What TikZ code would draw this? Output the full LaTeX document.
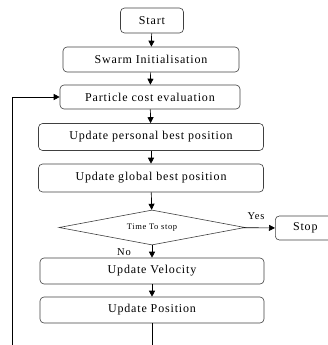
\documentclass[tikz,border=0pt]{standalone}
\usepackage{fontspec}
\setmainfont{Liberation Serif}[LetterSpace=7]
\usetikzlibrary{shapes.geometric,arrows.meta}
\begin{document}
\begin{tikzpicture}[x=1pt,y=-1pt,
  box/.style={draw=black!75,line width=0.6pt,rounded corners=4pt,inner sep=0pt,font=\fontsize{12}{13}\selectfont},
  arr/.style={draw=black,line width=0.7pt,-{Triangle[width=6pt,length=6pt]}},
  ln/.style={draw=black,line width=0.7pt}]
\useasboundingbox (0,0) rectangle (328,345);
\node[box,minimum width=63pt,minimum height=25pt] (start) at (152,20.5) {Start};
\node[box,minimum width=176pt,minimum height=25pt] (swarm) at (151,59.5) {Swarm Initialisation};
\node[box,minimum width=180pt,minimum height=24pt] (cost) at (150,97) {Particle cost evaluation};
\node[box,minimum width=225pt,minimum height=27pt] (pbest) at (151,137) {Update personal best position};
\node[box,minimum width=225pt,minimum height=28pt] (gbest) at (151,178) {Update global best position};
\node[draw=black!75,line width=0.6pt,diamond,aspect=5.3,minimum width=186pt,minimum height=35pt,inner sep=0pt,font=\fontsize{8.5}{9}\selectfont] (dec) at (152,227.5) {Time To stop};
\node[box,minimum width=60pt,minimum height=24pt,anchor=west] (stop) at (275,228) {Stop};
\node[box,minimum width=224pt,minimum height=26pt] (vel) at (152,271) {Update Velocity};
\node[box,minimum width=224pt,minimum height=26pt] (pos) at (152,310) {Update Position};
\node[font=\fontsize{10.5}{11}\selectfont,inner sep=0pt] (yes) at (256,216) {Yes};
\node[font=\fontsize{10.5}{11}\selectfont,inner sep=0pt] (no) at (124,252) {No};
\coordinate (pend) at (152,350);
\coordinate (lbot) at (12,350);
\coordinate (lcorner) at (12,97);
\draw[arr] (start) -- (swarm);
\draw[arr] (swarm) -- (cost);
\draw[arr] (cost) -- (pbest);
\draw[arr] (pbest) -- (gbest);
\draw[arr] (gbest) -- (dec);
\draw[arr] (dec) -- (stop);
\draw[arr] (dec) -- (vel);
\draw[arr] (vel) -- (pos);
\draw[ln] (pos) -- (pend);
\draw[arr] (lbot) -- (lcorner) -- (cost);
\end{tikzpicture}
\end{document}
